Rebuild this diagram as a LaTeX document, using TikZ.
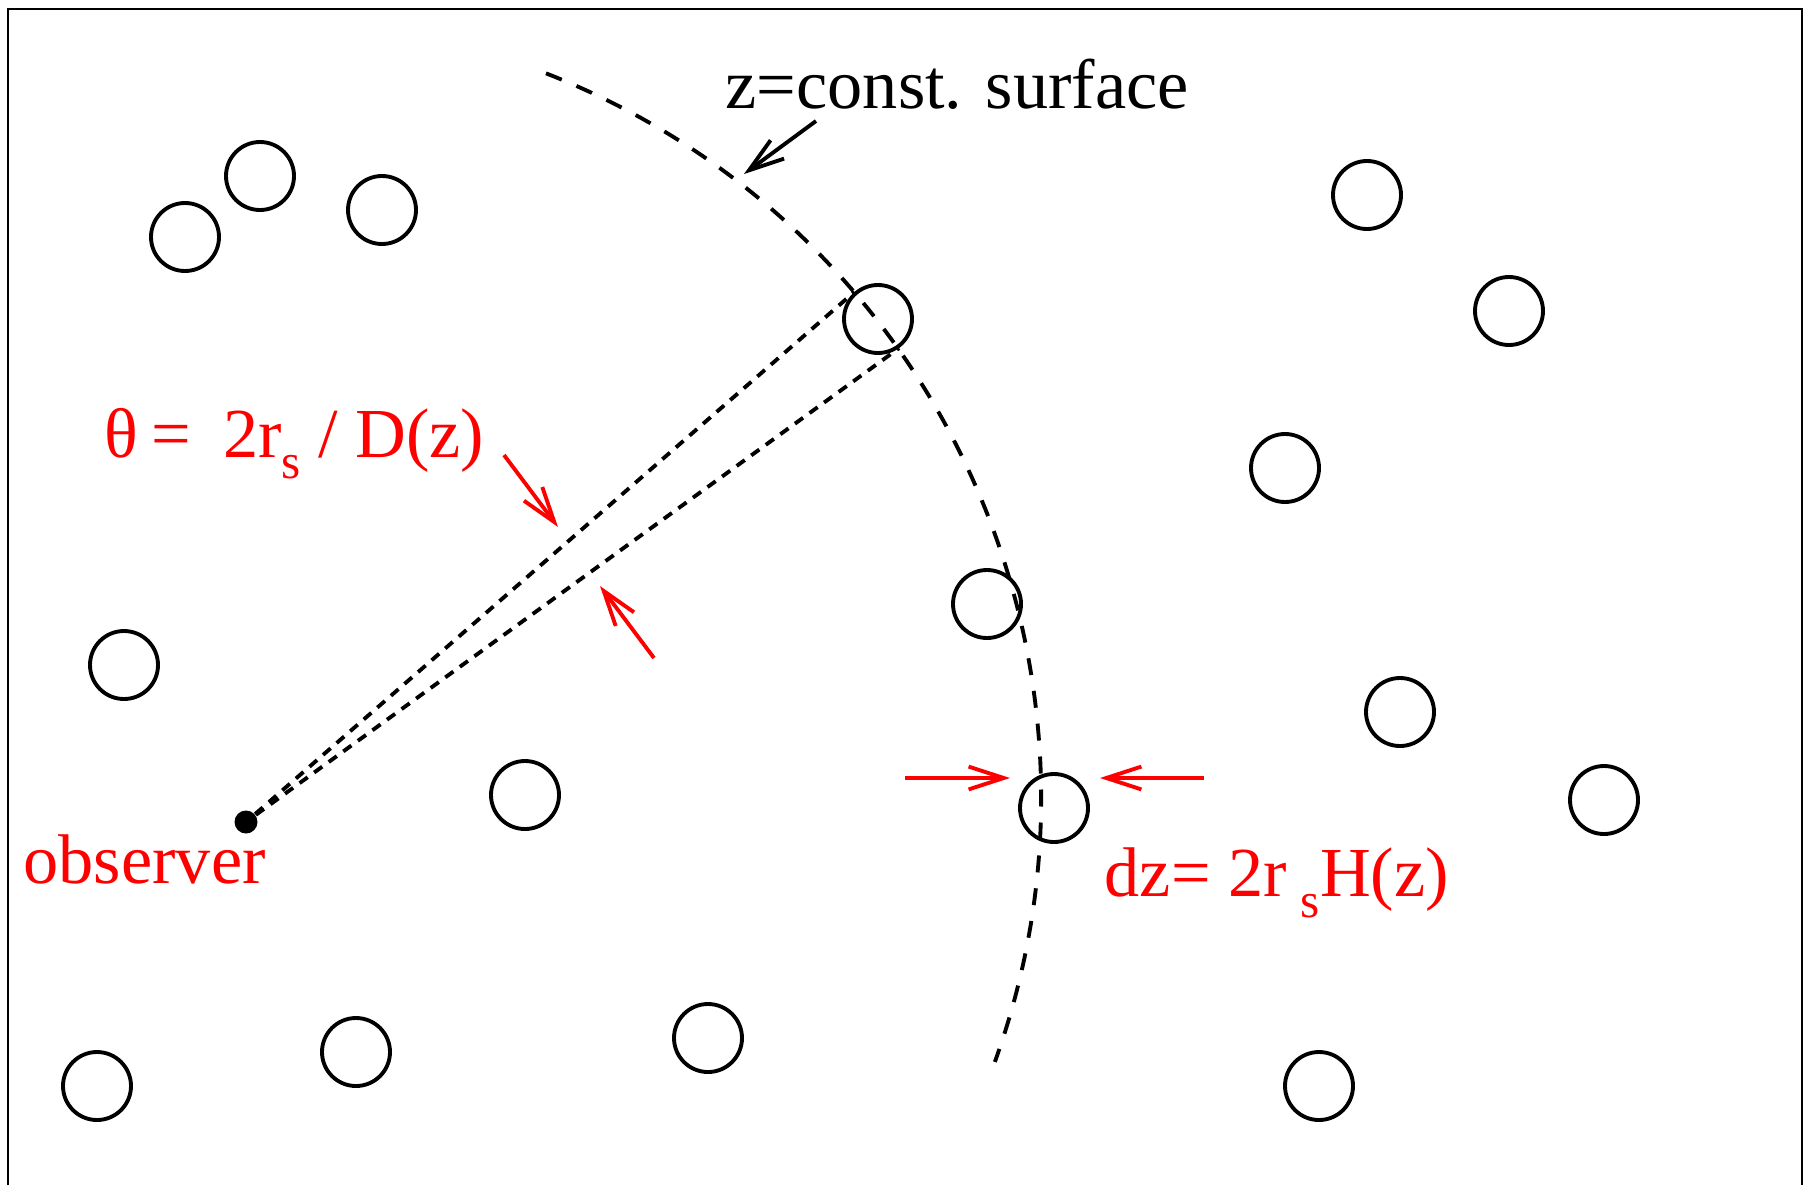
\documentclass[tikz,border=0pt]{standalone}
\usepackage{fontspec}
\setmainfont{Liberation Serif}
\usetikzlibrary{arrows.meta,calc}
\newcommand{\lowsub}[1]{\raisebox{-6pt}{\fontsize{14}{14}\selectfont #1}}

\begin{document}
\begin{tikzpicture}[
  blob/.style={draw, circle, line width=1.1pt, minimum size=0.68cm, inner sep=0pt},
  lbl/.style={inner sep=0pt, font=\fontsize{20}{24}\selectfont},
  arr/.style={-{Straight Barb[length=10pt,width=6.5pt]}, line width=1.1pt},
  sight/.style={line width=1.1pt, dash pattern=on 0.1cm off 0.08cm},
  surf/.style={line width=1.1pt, dash pattern=on 0.17cm off 0.16cm}
]
  \useasboundingbox (0,0) rectangle (18.10,11.85);
  % --- frame ---
  \draw[line width=0.6pt] (0.08,0) |- (18.02,11.76) -- (18.02,0);

  % --- objects ---
  \node[blob] (g1)  at (1.85, 9.48) {};
  \node[blob] (g2)  at (2.60,10.09) {};
  \node[blob] (g3)  at (3.82, 9.75) {};
  \node[blob] (g4)  at (8.78, 8.66) {};
  \node[blob] (g5)  at (13.67,9.90) {};
  \node[blob] (g6)  at (15.09,8.74) {};
  \node[blob] (g7)  at (12.85,7.17) {};
  \node[blob] (g8)  at (9.87, 5.81) {};
  \node[blob] (g9)  at (1.24, 5.20) {};
  \node[blob] (g10) at (14.00,4.73) {};
  \node[blob] (g11) at (5.25, 3.90) {};
  \node[blob] (g12) at (10.54,3.77) {};
  \node[blob] (g13) at (16.04,3.85) {};
  \node[blob] (g14) at (0.97, 0.99) {};
  \node[blob] (g15) at (3.56, 1.33) {};
  \node[blob] (g16) at (7.08, 1.47) {};
  \node[blob] (g17) at (13.19,0.99) {};

  % --- observer ---
  \node[circle, fill, inner sep=0pt, minimum size=0.23cm] (obs) at (2.46,3.63) {};
  \node[lbl, red, anchor=base west] (obslbl) at (0.23,3.02) {observer};

  % --- z = const. surface ---
  \coordinate (ctr) at (2.63,3.87);
  \draw[surf] ([shift={(68.67:7.78)}]ctr) arc[start angle=68.67, end angle=-19.83, radius=7.78];
  \node[lbl, anchor=base west] (surflbl) at (7.25,10.77) {z=const. surface};
  \coordinate (sfrom) at (8.16,10.64);
  \coordinate (sto)   at (7.44,10.11);
  \draw[arr] (sfrom) -- (sto);

  % --- lines of sight ---
  \draw[sight] (obs) -- (tangent cs:node=g4,point={(obs)},solution=1);
  \draw[sight] (obs) -- (tangent cs:node=g4,point={(obs)},solution=2);

  % --- angle theta ---
  \node[lbl, red, anchor=base east] (thlbl) at (4.85,7.28)
        {θ\kern0.2em=\hspace{0.45em}2r\lowsub{s} / D(z)};
  \coordinate (t1a) at (5.04,7.30);
  \coordinate (t1b) at (5.58,6.58);
  \coordinate (t2a) at (6.54,5.27);
  \coordinate (t2b) at (6.00,5.99);
  \draw[arr, red] (t1a) -- (t1b);
  \draw[arr, red] (t2a) -- (t2b);

  % --- radial width dz ---
  \coordinate (d1a) at (9.05,4.07);
  \coordinate (d1b) at (10.10,4.07);
  \coordinate (d2a) at (12.04,4.07);
  \coordinate (d2b) at (11.00,4.07);
  \draw[arr, red] (d1a) -- (d1b);
  \draw[arr, red] (d2a) -- (d2b);
  \node[lbl, red, anchor=base west] (dzlbl) at (11.04,2.89) {dz= 2r\kern0.2em\lowsub{s}H(z)};
\end{tikzpicture}
\end{document}
